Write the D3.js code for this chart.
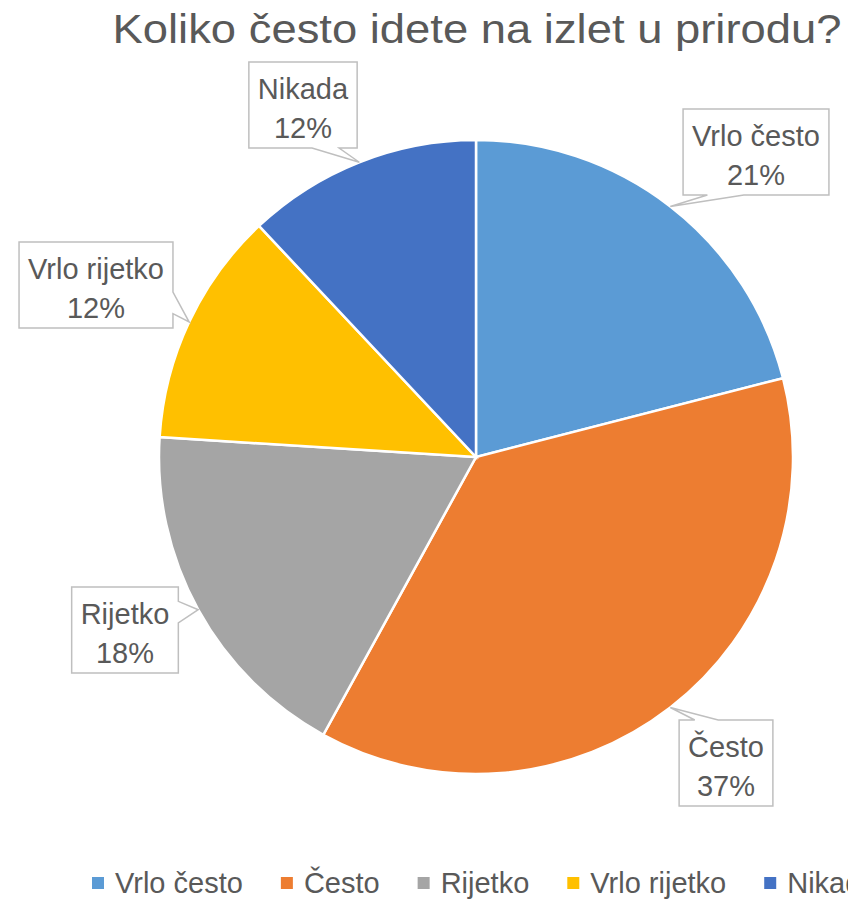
<!DOCTYPE html>
<html>
<head>
<meta charset="utf-8">
<script src="https://cdn.jsdelivr.net/npm/d3@7"></script>
<style>
  body { margin: 0; background: #fff; }
  text { font-family: "Liberation Sans", Arial, sans-serif; fill: #595959; }
</style>
</head>
<body>
<div id="chart"></div>
<script>
// Chart data
const title = "Koliko često idete na izlet u prirodu?";
const categories = ["Vrlo često", "Često", "Rijetko", "Vrlo rijetko", "Nikada"];
const values = [21, 37, 18, 12, 12];
const colors = ["#5B9BD5", "#ED7D31", "#A5A5A5", "#FFC000", "#4472C4"];

// Callout box centres (layout only)
const boxCenters = [[756, 152], [726, 763], [125, 630], [96, 285], [303, 105]];

const width = 848, height = 899;
const cx = 476, cy = 457, radius = 317;

const svg = d3.select("#chart")
    .append("svg")
    .attr("width", width)
    .attr("height", height);

// Title
svg.append("text")
    .attr("x", 477)
    .attr("y", 43)
    .attr("text-anchor", "middle")
    .attr("font-size", 41)
    .attr("textLength", 729)
    .attr("lengthAdjust", "spacingAndGlyphs")
    .text(title);

const pie = d3.pie().sort(null).value(d => d);
const arcs = pie(values);
const arc = d3.arc().innerRadius(0).outerRadius(radius);
const edge = d3.arc().innerRadius(radius).outerRadius(radius);

const g = svg.append("g").attr("transform", `translate(${cx},${cy})`);
g.selectAll("path")
    .data(arcs)
    .enter()
    .append("path")
    .attr("d", arc)
    .attr("fill", (d, i) => colors[i])
    .attr("stroke", "#fff")
    .attr("stroke-width", 2.5);

// Callout shape: rectangle with a wedge pointing to the slice
function callout(x0, y0, x1, y1, tx, ty) {
    const w = x1 - x0, h = y1 - y0;
    const mx = (x0 + x1) / 2, my = (y0 + y1) / 2;
    const dx = (tx - mx) / w, dy = (ty - my) / h;
    const p = [];
    if (Math.abs(dx) > Math.abs(dy)) {
        const a = ty < my ? [y0 + h * 2 / 12, y0 + h * 5 / 12] : [y1 - h * 5 / 12, y1 - h * 2 / 12];
        if (dx > 0) {
            p.push([x0, y0], [x1, y0], [x1, a[0]], [tx, ty], [x1, a[1]], [x1, y1], [x0, y1]);
        } else {
            p.push([x0, y0], [x1, y0], [x1, y1], [x0, y1], [x0, a[1]], [tx, ty], [x0, a[0]]);
        }
    } else {
        const a = tx < mx ? [x0 + w * 2 / 12, x0 + w * 5 / 12] : [x1 - w * 5 / 12, x1 - w * 2 / 12];
        if (dy > 0) {
            p.push([x0, y0], [x1, y0], [x1, y1], [a[1], y1], [tx, ty], [a[0], y1], [x0, y1]);
        } else {
            p.push([x0, y0], [a[0], y0], [tx, ty], [a[1], y0], [x1, y0], [x1, y1], [x0, y1]);
        }
    }
    return "M" + p.map(q => q.join(",")).join("L") + "Z";
}

// Data labels
const labels = svg.append("g");
arcs.forEach((d, i) => {
    const [bx, by] = boxCenters[i];
    const [ex, ey] = edge.centroid(d);
    const lg = labels.append("g");
    const box = lg.append("path")
        .attr("fill", "#fff")
        .attr("stroke", "#BFBFBF")
        .attr("stroke-width", 1.5);
    const t1 = lg.append("text")
        .attr("x", bx).attr("y", by - 6)
        .attr("text-anchor", "middle")
        .attr("font-size", 29)
        .text(categories[i]);
    const t2 = lg.append("text")
        .attr("x", bx).attr("y", by + 33)
        .attr("text-anchor", "middle")
        .attr("font-size", 29)
        .text(Math.round(values[i] / d3.sum(values) * 100) + "%");
    const tw = Math.max(t1.node().getComputedTextLength(), t2.node().getComputedTextLength());
    const bw = tw + 18, bh = 86;
    box.attr("d", callout(bx - bw / 2, by - bh / 2, bx + bw / 2, by + bh / 2, cx + ex, cy + ey));
});

// Legend
const legend = svg.append("g");
let lx = 92;
categories.forEach((c, i) => {
    legend.append("rect")
        .attr("x", lx).attr("y", 877)
        .attr("width", 12).attr("height", 12)
        .attr("fill", colors[i]);
    const t = legend.append("text")
        .attr("x", lx + 23).attr("y", 893)
        .attr("font-size", 29)
        .text(c);
    lx += 23 + t.node().getComputedTextLength() + 38;
});
</script>
</body>
</html>
